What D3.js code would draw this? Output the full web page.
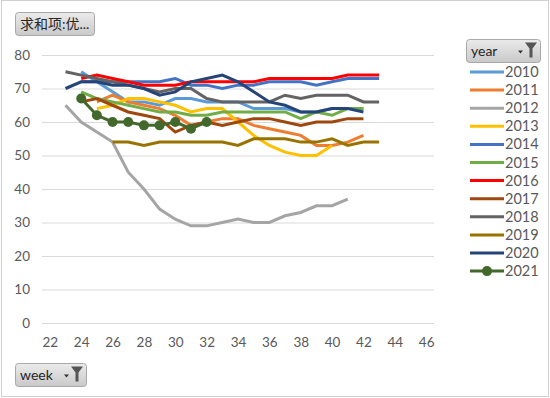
<!DOCTYPE html>
<html>
<head>
<meta charset="utf-8">
<script src="https://cdn.jsdelivr.net/npm/d3@7"></script>
<style>
  body { margin: 0; background: #fff; }
  text { font-family: Lato, "Noto Sans CJK SC", sans-serif; }
</style>
</head>
<body>
<div id="chart"></div>
<script>
// data
const years = ["2010", "2011", "2012", "2013", "2014", "2015", "2016", "2017", "2018", "2019", "2020", "2021"];
const startWeeks = [24, 25, 23, 25, 24, 24, 24, 24, 23, 26, 23, 24];
const v2010 = [75, 72, 69, 66, 66, 65, 67, 67, 66, 66, 66, 64, 64, 64, 63, 63, 64, 64, 64];
const v2011 = [66, 68, 66, 65, 64, 62, 59, 60, 61, 61, 59, 58, 57, 56, 53, 53, 54, 56];
const v2012 = [65, 60, 57, 54, 45, 40, 34, 31, 29, 29, 30, 31, 30, 30, 32, 33, 35, 35, 37];
const v2013 = [64, 65, 67, 67, 66, 65, 63, 64, 64, 60, 56, 53, 51, 50, 50, 53];
const v2014 = [72, 72, 72, 72, 72, 72, 73, 71, 71, 70, 71, 71, 72, 72, 72, 71, 72, 73, 73, 73];
const v2015 = [69, 67, 66, 65, 64, 63, 63, 62, 62, 63, 63, 63, 63, 63, 61, 63, 62, 64, 64];
const v2016 = [73, 74, 73, 72, 71, 71, 71, 72, 72, 72, 72, 72, 73, 73, 73, 73, 73, 74, 74, 74];
const v2017 = [66, 67, 65, 63, 62, 61, 57, 59, 60, 59, 60, 61, 61, 60, 59, 60, 60, 61, 61];
const v2018 = [75, 74, 73, 72, 71, 70, 69, 70, 70, 67, 66, 66, 66, 66, 68, 67, 68, 68, 68, 66, 66];
const v2019 = [54, 54, 53, 54, 54, 54, 54, 54, 53, 55, 55, 55, 54, 54, 55, 53, 54, 54];
const v2020 = [70, 72, 72, 71, 71, 70, 68, 69, 72, 73, 74, 72, 69, 66, 65, 63, 63, 64, 64, 63];
const v2021 = [67, 62, 60, 60, 59, 59, 60, 58, 60];
const seriesValues = [v2010, v2011, v2012, v2013, v2014, v2015, v2016, v2017, v2018, v2019, v2020, v2021];
const colors = ["#5B9BD5", "#ED7D31", "#A5A5A5", "#FFC000", "#4472C4", "#70AD47",
  "#FF0000", "#9E480E", "#636363", "#997300", "#264478", "#43682B"];
const xTicks = [22, 24, 26, 28, 30, 32, 34, 36, 38, 40, 42, 44, 46];
const yTicks = [0, 10, 20, 30, 40, 50, 60, 70, 80];

const W = 550, H = 398;
const svg = d3.select("#chart").append("svg")
  .attr("width", W)
  .attr("height", H);

const defs = svg.append("defs");
const grad = defs.append("linearGradient")
  .attr("id", "btn")
  .attr("x1", 0).attr("y1", 0).attr("x2", 0).attr("y2", 1);
grad.append("stop").attr("offset", "0%").attr("stop-color", "#ebebeb");
grad.append("stop").attr("offset", "100%").attr("stop-color", "#c9c9c9");

// outer frame
svg.append("rect")
  .attr("x", 1.5).attr("y", 0.5)
  .attr("width", W - 3).attr("height", H - 2)
  .attr("fill", "#fff")
  .attr("stroke", "#d0d0d0");

const x = d3.scaleLinear().domain([21.5, 46.5]).range([42, 434]);
const y = d3.scaleLinear().domain([0, 80]).range([323, 55]);

// gridlines + y labels
const yAxis = svg.append("g")
  .attr("transform", "translate(42,0)")
  .call(d3.axisLeft(y).tickValues(yTicks).tickSize(-392).tickPadding(12));
yAxis.select(".domain").remove();
yAxis.selectAll(".tick line").attr("stroke", "#d9d9d9");
yAxis.selectAll(".tick text").attr("fill", "#595959").attr("font-size", 13.5);

const xAxis = svg.append("g")
  .attr("transform", "translate(0,323)")
  .call(d3.axisBottom(x).tickValues(xTicks).tickSize(0).tickPadding(14));
xAxis.select(".domain").remove();
xAxis.selectAll(".tick text").attr("fill", "#595959").attr("font-size", 13.5);

const line = d3.line()
  .x((d) => x(d.week))
  .y((d) => y(d.value));

const series = years.map((yr, i) => ({
  year: yr,
  color: colors[i],
  points: seriesValues[i].map((v, j) => ({ week: startWeeks[i] + j, value: v }))
}));

svg.selectAll(".series")
  .data(series)
  .enter()
  .append("path")
  .attr("class", "series")
  .attr("d", (d) => line(d.points))
  .attr("fill", "none")
  .attr("stroke", (d) => d.color)
  .attr("stroke-width", 3);

// 2021 has markers
const last = series[series.length - 1];
svg.selectAll(".dot")
  .data(last.points)
  .enter()
  .append("circle")
  .attr("class", "dot")
  .attr("cx", (d) => x(d.week))
  .attr("cy", (d) => y(d.value))
  .attr("r", 5)
  .attr("fill", last.color);

// pivot field buttons
function fieldButton(bx, by, bw, bh, label, withFilter) {
  const g = svg.append("g").attr("transform", `translate(${bx},${by})`);
  g.append("rect")
    .attr("x", 0.5).attr("y", 0.5)
    .attr("width", bw).attr("height", bh)
    .attr("rx", 3)
    .attr("fill", "url(#btn)")
    .attr("stroke", "#a9a9a9");
  g.append("text")
    .attr("x", 5).attr("y", bh / 2 + 5)
    .attr("font-size", 14)
    .attr("fill", "#262626")
    .text(label);
  if (withFilter) {
    // small dropdown arrow + funnel
    g.append("path")
      .attr("d", `M${bw - 22},${bh / 2} h5 l-2.5,3 z`)
      .attr("fill", "#333");
    g.append("path")
      .attr("d", `M${bw - 15},${bh / 2 - 8} h12 l-4.5,6 v9 h-3 v-9 z`)
      .attr("fill", "#555");
  }
}
fieldButton(15, 12, 79, 23, "求和项:优...", false);
fieldButton(466, 39, 74, 23, "year", true);
fieldButton(15, 363, 71, 23, "week", true);

// legend
const legend = svg.selectAll(".leg")
  .data(series)
  .enter()
  .append("g")
  .attr("class", "leg")
  .attr("transform", (d, i) => `translate(470,${72 + i * 18.1})`);
legend.append("line")
  .attr("x1", 0).attr("x2", 34)
  .attr("stroke", (d) => d.color)
  .attr("stroke-width", 3);
legend.filter((d, i) => i === series.length - 1)
  .append("circle")
  .attr("cx", 17).attr("r", 5)
  .attr("fill", (d) => d.color);
legend.append("text")
  .attr("x", 35).attr("y", 5)
  .attr("font-size", 14.5)
  .attr("fill", "#595959")
  .text((d) => d.year);
</script>
</body>
</html>
